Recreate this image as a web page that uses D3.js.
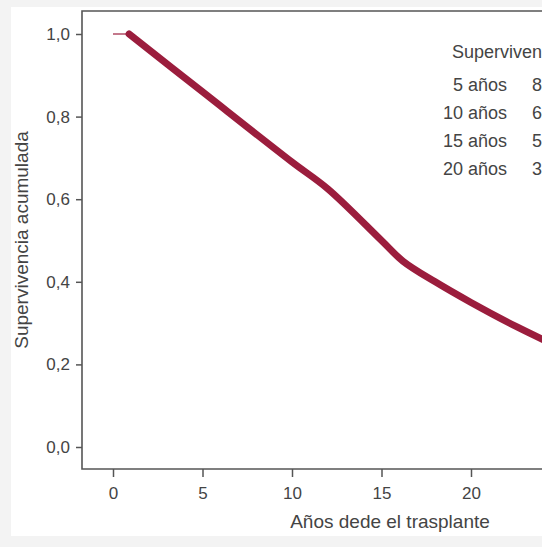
<!DOCTYPE html>
<html>
<head>
<meta charset="utf-8">
<script src="https://cdn.jsdelivr.net/npm/d3@7"></script>
<style>
  html, body { margin: 0; padding: 0; background: #f3f3f3; overflow: hidden; }
  svg { display: block; }
  text { font-family: "Liberation Sans", Arial, Helvetica, sans-serif; }
</style>
</head>
<body>
<script>
// Kaplan-Meier style cumulative survival after transplant
const xTicks = [0, 5, 10, 15, 20];
const yTicks = [0, 0.2, 0.4, 0.6, 0.8, 1.0];

// early flat stretch (thin) and the main survival estimate (thick)
const earlyYears = [0, 0.9];
const earlySurvival = [1.0, 1.0];
const years =    [0.9, 5,    10,   12,    15,   16.2, 18,   20,   22.6, 25];
const survival = [1.0, 0.86, 0.69, 0.625, 0.50, 0.45, 0.40, 0.35, 0.29, 0.24];

// survival table shown at the top right
const tableYears = ["5 años", "10 años", "15 años", "20 años"];
const tableValues = ["86 %", "69 %", "50 %", "35 %"];

const W = 542, H = 547;
const svg = d3.select("body").append("svg").attr("width", W).attr("height", H);

// white panel
svg.append("rect").attr("x", 11).attr("y", 7).attr("width", W).attr("height", 529).attr("fill", "#fff");

const x = d3.scaleLinear().domain([0, 20]).range([113, 471]);
const y = d3.scaleLinear().domain([0, 1]).range([447, 34]);

const frameLeft = 82, frameTop = 11, frameBottom = 469;
const axisColor = "#555";
const textColor = "#444";

// frame: top, left and bottom edges
svg.append("path")
  .attr("d", `M${W + 5},${frameTop}H${frameLeft}V${frameBottom}H${W + 5}`)
  .attr("fill", "none").attr("stroke", axisColor).attr("stroke-width", 1.6);

// y axis
const yAxis = d3.axisLeft(y).tickValues(yTicks).tickSize(6).tickPadding(6)
  .tickFormat(d => d3.format(".1f")(d).replace(".", ","));
const gy = svg.append("g").attr("transform", `translate(${frameLeft},0)`).call(yAxis);
gy.select(".domain").remove();
gy.selectAll(".tick line").attr("stroke", axisColor).attr("stroke-width", 1.5);
gy.selectAll(".tick text").attr("fill", textColor).attr("font-size", 17);

// x axis
const xAxis = d3.axisBottom(x).tickValues(xTicks).tickSize(8).tickPadding(10);
const gx = svg.append("g").attr("transform", `translate(0,${frameBottom})`).call(xAxis);
gx.select(".domain").remove();
gx.selectAll(".tick line").attr("stroke", axisColor).attr("stroke-width", 1.5);
gx.selectAll(".tick text").attr("fill", textColor).attr("font-size", 17);

// axis titles
svg.append("text").attr("x", 390).attr("y", 528).attr("text-anchor", "middle")
  .attr("font-size", 19).attr("fill", textColor).text("Años dede el trasplante");
svg.append("text").attr("transform", "translate(28,240) rotate(-90)").attr("text-anchor", "middle")
  .attr("font-size", 19).attr("fill", textColor).text("Supervivencia acumulada");

// survival curve
const line = d3.line().x(d => x(d[0])).y(d => y(d[1]));
const curveColor = "#9b1d3d";

svg.append("path")
  .datum(d3.zip(earlyYears, earlySurvival))
  .attr("d", line)
  .attr("fill", "none").attr("stroke", curveColor).attr("stroke-width", 1.4)
  .attr("stroke-opacity", 0.85);

svg.append("path")
  .datum(d3.zip(years, survival))
  .attr("d", line.curve(d3.curveCatmullRom.alpha(0.5)))
  .attr("fill", "none").attr("stroke", curveColor).attr("stroke-width", 7)
  .attr("stroke-linecap", "round").attr("stroke-linejoin", "round");

// survival table
const table = svg.append("g");
table.append("text").attr("x", 452).attr("y", 58).attr("font-size", 18)
  .attr("fill", textColor).text("Supervivencia");
tableYears.forEach((t, i) => {
  table.append("text").attr("x", 507).attr("y", 91 + i * 28).attr("text-anchor", "end")
    .attr("font-size", 18).attr("fill", textColor).text(t);
  table.append("text").attr("x", 532).attr("y", 91 + i * 28)
    .attr("font-size", 18).attr("fill", textColor).text(tableValues[i]);
});
</script>
</body>
</html>
